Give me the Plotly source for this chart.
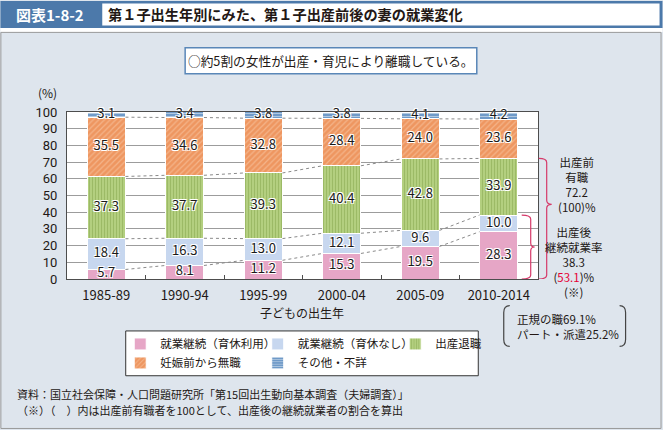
import plotly.graph_objects as go

# ---------------- data ----------------
periods = ["1985-89", "1990-94", "1995-99", "2000-04", "2005-09", "2010-2014"]
cont_leave = [5.7, 8.1, 11.2, 15.3, 19.5, 28.3]        # 就業継続（育休利用）
cont_noleave = [18.4, 16.3, 13.0, 12.1, 9.6, 10.0]     # 就業継続（育休なし）
quit_birth = [37.3, 37.7, 39.3, 40.4, 42.8, 33.9]      # 出産退職
jobless_before = [35.5, 34.6, 32.8, 28.4, 24.0, 23.6]  # 妊娠前から無職
other_unknown = [3.1, 3.4, 3.8, 3.8, 4.1, 4.2]         # その他・不詳
series_names = ["就業継続（育休利用）", "就業継続（育休なし）", "出産退職", "妊娠前から無職", "その他・不詳"]
y_ticks = [0, 10, 20, 30, 40, 50, 60, 70, 80, 90, 100]
pre_employed = 72.2
post_continue = 38.3
post_continue_share = 53.1
regular_share = 69.1
part_share = 25.2

FONT = "Noto Sans CJK JP"
TXT = "#231815"

# plot-area pixel frame (figure 663x430)
L, R, T, B = 66.7, 538.3, 111.5, 279.3
W, H = 663, 430


def X(px):
    return (px - L) / (R - L)


def Y(py):
    return (B - py) / (B - T)


series = [cont_leave, cont_noleave, quit_birth, jobless_before, other_unknown]
styles = [
    dict(color="#e6a6c6"),
    dict(color="#c7d7ef"),
    dict(color="#a7c46c", pattern=dict(shape="|", fgcolor="#86a64e", bgcolor="#b3cf7f", size=3, solidity=0.35)),
    dict(color="#ef9c66", pattern=dict(shape="/", fgcolor="#f9d2b4", bgcolor="#ee9660", size=4, solidity=0.3)),
    dict(color="#7098c6", pattern=dict(shape="-", fgcolor="#ffffff", bgcolor="#6f9ac8", size=3, solidity=0.3)),
]

xs = list(range(len(periods)))
BW = 0.49

fig = go.Figure()
for name, vals, st in zip(series_names, series, styles):
    fig.add_trace(go.Bar(
        x=xs, y=vals, name=name, width=BW,
        marker=dict(**st, line=dict(color="white", width=1)),
        hoverinfo="skip",
    ))
    if name == "出産退職":
        fig.data[-1].legendwidth = 55

# cumulative tops
cums = []
run = [0.0] * len(periods)
for vals in series:
    run = [a + b for a, b in zip(run, vals)]
    cums.append(run[:])

# dotted connectors between adjacent bars
for level in cums[:4]:
    lx, ly = [], []
    for i in range(len(periods) - 1):
        lx += [xs[i] + BW / 2, xs[i + 1] - BW / 2, None]
        ly += [level[i], level[i + 1], None]
    fig.add_trace(go.Scatter(x=lx, y=ly, mode="lines", showlegend=False, hoverinfo="skip",
                             line=dict(color="#8a8a8a", width=1, dash="dot")))

# segment labels
halo = "1px 1px 0 #fff, -1px -1px 0 #fff, 1px -1px 0 #fff, -1px 1px 0 #fff"
base = [0.0] * len(periods)
for vals in series:
    mids = [b + v / 2 for b, v in zip(base, vals)]
    fig.add_trace(go.Scatter(
        x=xs, y=mids, mode="text", text=[f"{v:.1f}" for v in vals],
        textposition="middle center", showlegend=False, hoverinfo="skip", cliponaxis=False,
        textfont=dict(family=FONT, size=13, color="#1a1a1a", shadow=halo),
    ))
    base = [b + v for b, v in zip(base, vals)]

shapes = []


def rect(x0, y0, x1, y1, fill=None, line=None, lw=1):
    shapes.append(dict(type="rect", xref="paper", yref="paper", layer="below",
                       x0=X(x0), x1=X(x1), y0=Y(y0), y1=Y(y1),
                       fillcolor=fill if fill else "rgba(0,0,0,0)",
                       line=dict(color=line if line else "rgba(0,0,0,0)", width=lw if line else 0)))


rect(0, 0, W, 31, fill="white")
rect(0, 0, W, 27, fill="#4c79aa")
rect(102, 2.5, 660, 24.5, fill="white")
rect(0.5, 31.5, 661.5, 429.5, line="#9a9a9a", lw=1)
rect(185, 47, 477, 73, fill="white", line="#5a87b8", lw=1.5)
rect(125.5, 331.5, 478.5, 376.5, fill="white", line="#333333", lw=1)


def pth(points):
    s = ""
    for cmd, coords in points:
        s += cmd + " " + " ".join(f"{X(a):.5f},{Y(b):.5f}" for a, b in coords) + " "
    return s.strip()


# parentheses around 正規/パート
shapes.append(dict(type="path", xref="paper", yref="paper", line=dict(color="#444", width=1.2),
                   path=pth([("M", [(510, 306)]), ("Q", [(504, 306), (504, 313)]), ("L", [(504, 340)]),
                             ("Q", [(504, 347), (510, 347)])])))
shapes.append(dict(type="path", xref="paper", yref="paper", line=dict(color="#444", width=1.2),
                   path=pth([("M", [(620, 306)]), ("Q", [(626, 306), (626, 313)]), ("L", [(626, 340)]),
                             ("Q", [(626, 347), (620, 347)])])))


# braces (x in paper, y in data units)
def brace(x0, x1, xt, top, bottom, tip, r=2.4):
    a, b, c = X(x0), X(x1), X(xt)
    p = (f"M {a:.5f},{top} Q {b:.5f},{top} {b:.5f},{top - r} L {b:.5f},{tip + r} "
         f"Q {b:.5f},{tip} {c:.5f},{tip} Q {b:.5f},{tip} {b:.5f},{tip - r} "
         f"L {b:.5f},{bottom + r} Q {b:.5f},{bottom} {a:.5f},{bottom}")
    shapes.append(dict(type="path", xref="paper", yref="y", path=p,
                       line=dict(color="#d63a6a", width=1.2)))


brace(539, 547, 552, pre_employed, 0, 44.7)
brace(522, 531, 535, post_continue, 0, post_continue / 2)

ann = []


def text(x, y, s, size=13, color=TXT, anchor="center", bold=False, align="center"):
    ann.append(dict(xref="paper", yref="paper", x=X(x), y=Y(y), text=(f"<b>{s}</b>" if bold else s),
                    showarrow=False, xanchor=anchor, yanchor="middle", align=align,
                    font=dict(family=FONT, size=size, color=color)))


text(50, 13.5, "図表1-8-2", size=15, color="white", bold=True)
text(106, 13.5, "第１子出生年別にみた、第１子出産前後の妻の就業変化", size=14.2, anchor="left", bold=True)
text(331, 60, "○約5割の女性が出産・育児により離職している。", size=12.7)
text(47, 92, "(%)", size=12)
text(302, 313, "子どもの出生年", size=12)

text(577, 184, f"出産前<br>有職<br>{pre_employed:.1f}<br>(100)%", size=11.5)
text(574, 262, f"出産後<br>継続就業率<br>{post_continue:.1f}<br>"
               f"(<span style='color:#e60033'>{post_continue_share:.1f}</span>)%<br>(※)", size=11.5)

text(515, 327, f"正規の職{regular_share:.1f}%<br>パート・派遣{part_share:.1f}%", size=11.5,
     anchor="left", align="left")

text(15, 395, "資料：国立社会保障・人口問題研究所「第15回出生動向基本調査（夫婦調査）」",
     size=11, anchor="left", align="left")
text(15, 410.5, "（※）（　）内は出産前有職者を100として、出産後の継続就業者の割合を算出",
     size=11, anchor="left", align="left")

fig.update_layout(
    width=W, height=H,
    margin=dict(l=L, r=W - R, t=T, b=H - B, autoexpand=False),
    paper_bgcolor="#dee5ed", plot_bgcolor="white",
    barmode="stack", bargap=0.51,
    font=dict(family=FONT, size=13, color=TXT),
    shapes=shapes, annotations=ann,
    showlegend=True,
    legend=dict(orientation="h", traceorder="normal", x=X(130), y=Y(330), xanchor="left", yanchor="top",
                bgcolor="rgba(0,0,0,0)", borderwidth=0, entrywidth=102.5, indentation=-10,
                font=dict(family=FONT, size=11.5, color=TXT), itemclick=False, itemdoubleclick=False),
    xaxis=dict(range=[-0.5, len(periods) - 0.5], tickvals=xs, ticktext=periods, ticks="",
               showgrid=False, zeroline=False, showline=True, linecolor="#4d4d4d", linewidth=1, mirror=True,
               tickfont=dict(family=FONT, size=13, color=TXT), ticklabelstandoff=4,
               minor=dict(tickvals=[i + 0.5 for i in xs[:-1]], ticks="inside", ticklen=4,
                          tickcolor="#4d4d4d", showgrid=False)),
    yaxis=dict(range=[0, 100], tickvals=y_ticks, ticks="", showgrid=True, gridcolor="#9c9c9c", gridwidth=1,
               zeroline=False, showline=True, linecolor="#4d4d4d", linewidth=1, mirror=True,
               tickfont=dict(family="Roboto", size=13, color=TXT), ticklabelstandoff=6),
)

fig.write_html("out.html", config={"displayModeBar": False},
               post_script="document.body.style.margin='0px';")
